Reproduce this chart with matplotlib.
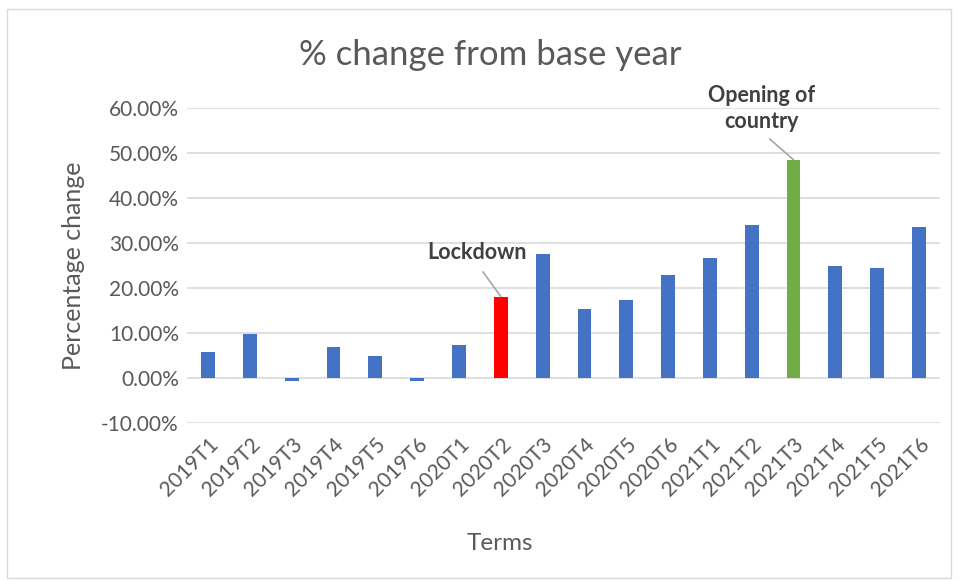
import matplotlib.pyplot as plt
from matplotlib.patches import Rectangle
from matplotlib.ticker import FuncFormatter

plt.rcParams['font.family'] = ['Lato', 'DejaVu Sans']

terms = ['2019T1', '2019T2', '2019T3', '2019T4', '2019T5', '2019T6',
         '2020T1', '2020T2', '2020T3', '2020T4', '2020T5', '2020T6',
         '2021T1', '2021T2', '2021T3', '2021T4', '2021T5', '2021T6']
pct_change = [5.7, 9.8, -0.6, 6.9, 4.8, -0.6,
              7.3, 18.1, 27.5, 15.4, 17.4, 22.8,
              26.7, 34.1, 48.5, 25.0, 24.5, 33.6]
highlights = {'2020T2': '#ff0000', '2021T3': '#70ad47'}

blue = '#4472c4'
text_grey = '#595959'
colors = [highlights.get(t, blue) for t in terms]

fig = plt.figure(figsize=(9.6, 5.81), dpi=100)
ax = fig.add_axes([0.195, 0.272, 0.784, 0.542])

x = range(len(terms))
ax.bar(x, pct_change, width=0.33, color=colors, zorder=3)

ax.set_xlim(-0.5, len(terms) - 0.5)
ax.set_ylim(-10, 60)
ax.set_yticks(range(-10, 61, 10))
ax.yaxis.set_major_formatter(FuncFormatter(lambda v, _: f'{v:.2f}%'))
ax.set_xticks(list(x))
ax.set_xticklabels(terms, rotation=45, ha='right', rotation_mode='anchor')
ax.tick_params(axis='both', length=0, labelsize=15, colors=text_grey, pad=6)
ax.tick_params(axis='x', pad=8)
ax.grid(axis='y', color='#d9d9d9', linewidth=1.2, zorder=0)
for s in ax.spines.values():
    s.set_visible(False)

fig.text(0.511, 0.905, '% change from base year', fontsize=25, color=text_grey,
         ha='center', va='center')
ax.set_ylabel('Percentage change', fontsize=18, color=text_grey, labelpad=12)
fig.text(0.521, 0.065, 'Terms', fontsize=17.5, color=text_grey, ha='center', va='center')

# callouts for the two highlighted terms; leader lines leave from the label's bottom centre
callout = dict(ha='center', va='center', fontsize=15.5, fontweight='bold', color='#404040',
               arrowprops=dict(arrowstyle='-', color='#a6a6a6', lw=1.2,
                               relpos=(0.5, 0), shrinkA=5, shrinkB=0))
i_lock = terms.index('2020T2')
ax.annotate('Lockdown', xy=(i_lock, pct_change[i_lock]),
            xytext=(i_lock - 0.57, pct_change[i_lock] + 9.7), **callout)
i_open = terms.index('2021T3')
ax.annotate('Opening of\ncountry', xy=(i_open, pct_change[i_open]),
            xytext=(i_open - 0.77, pct_change[i_open] + 11.5),
            linespacing=1.3, **callout)

fig.patches.append(Rectangle((0.007, 0.006), 0.984, 0.979, transform=fig.transFigure,
                             fill=False, edgecolor='#d9d9d9', linewidth=1))

fig.savefig('out.png', dpi=100)
